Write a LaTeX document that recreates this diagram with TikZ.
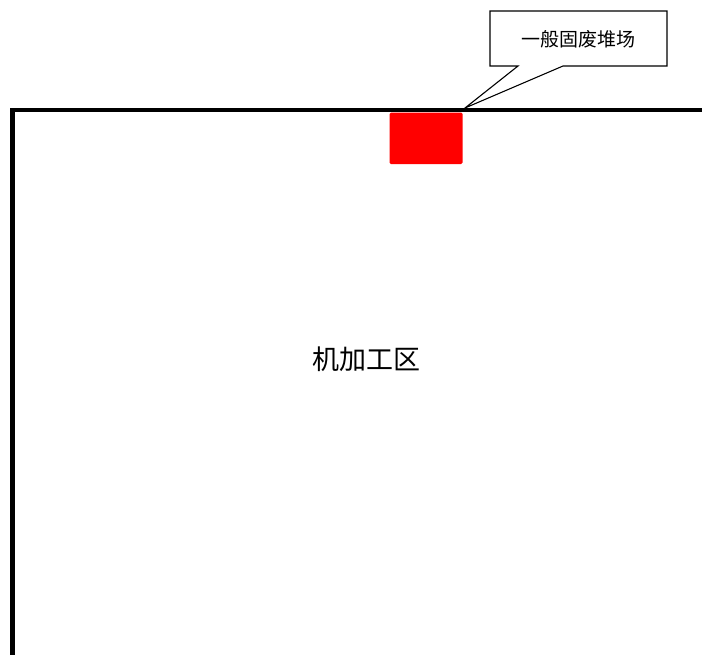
\documentclass[tikz,border=0pt]{standalone}
\usepackage{fontspec}
\newfontfamily\cjk{Noto Sans CJK SC}
\begin{document}
\begin{tikzpicture}[x=1pt,y=-1pt,
  frameline/.style={line width=4.5pt,line cap=rect},
  callout/.style={draw=black,line width=1.1pt,fill=white,line join=miter},
  storage/.style={fill=red,rounded corners=1.5pt}]
\useasboundingbox (0,0) rectangle (702,654);
\fill[white] (0,0) rectangle (702,654);
\coordinate (fbl) at (12.5,660);
\coordinate (ftl) at (12.5,110);
\coordinate (ftr) at (710,110);
\draw[frameline] (fbl) -- (ftl) -- (ftr);
\fill[storage] (389.5,112.5) rectangle (462.5,164);
\node[font=\cjk\fontsize{27}{30}\selectfont] (area) at (366,359) {机加工区};
\coordinate (tip) at (465,108);
\draw[callout] (490,11) -- (667,11) -- (667,66) -- (563,66) -- (tip) -- (518,66) -- (490,66) -- cycle;
\node[font=\cjk\fontsize{19}{22}\selectfont] (lbl) at (578.5,39.5) {一般固废堆场};
\end{tikzpicture}
\end{document}
